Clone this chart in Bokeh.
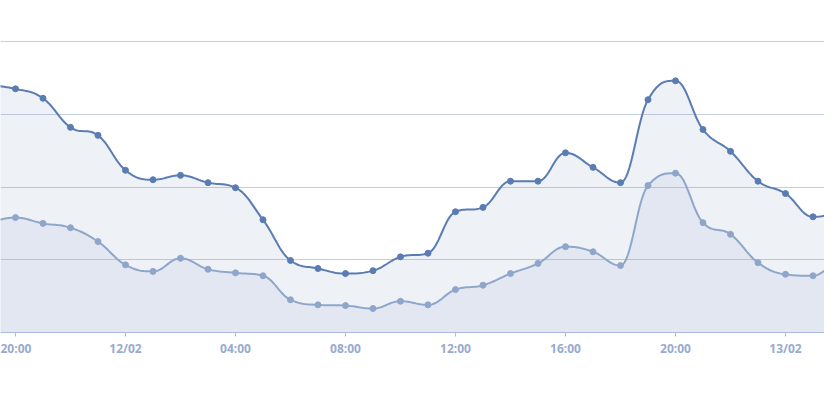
from bokeh.plotting import figure
from bokeh.models import FixedTicker, Range1d
from bokeh.embed import file_html
from bokeh.resources import INLINE
import numpy as np

# hour offsets relative to 11/02 20:00
hours = list(range(-1, 31))
upper = [340, 335, 322, 282, 271, 223, 210, 216, 206, 199, 155, 99, 88, 81, 85, 104,
         109, 166, 172, 208, 208, 247, 227, 206, 320, 346, 279, 249, 208, 191, 159, 165]
lower = [151, 158, 150, 144, 125, 93, 84, 102, 87, 82, 78, 45, 38, 37, 33, 43,
         38, 59, 65, 81, 95, 118, 111, 92, 202, 219, 151, 135, 96, 80, 78, 107]
tick_hours = [0, 4, 8, 12, 16, 20, 24, 28]
tick_labels = ["20:00", "12/02", "04:00", "08:00", "12:00", "16:00", "20:00", "13/02"]
grid_values = [0, 100, 200, 300, 400]

UPPER_C = "#5a7cb3"
LOWER_C = "#8fa6cb"


def spline(xs, ys, smoothing=1.5, n=16):
    xs = np.asarray(xs, float)
    ys = np.asarray(ys, float)
    m = len(xs)
    lc = [(xs[i], ys[i]) for i in range(m)]
    rc = [(xs[i], ys[i]) for i in range(m)]
    d = smoothing + 1
    for i in range(1, m - 1):
        x, y = xs[i], ys[i]
        lx = (smoothing * x + xs[i - 1]) / d
        ly = (smoothing * y + ys[i - 1]) / d
        rx = (smoothing * x + xs[i + 1]) / d
        ry = (smoothing * y + ys[i + 1]) / d
        corr = ((ry - ly) * (rx - x)) / (rx - lx) + y - ry
        ly += corr
        ry += corr
        if ly > ys[i - 1] and ly > y:
            ly = max(ys[i - 1], y)
            ry = 2 * y - ly
        elif ly < ys[i - 1] and ly < y:
            ly = min(ys[i - 1], y)
            ry = 2 * y - ly
        if ry > ys[i + 1] and ry > y:
            ry = max(ys[i + 1], y)
            ly = 2 * y - ry
        elif ry < ys[i + 1] and ry < y:
            ry = min(ys[i + 1], y)
            ly = 2 * y - ry
        lc[i] = (lx, ly)
        rc[i] = (rx, ry)
    outx, outy = [xs[0]], [ys[0]]
    t = np.linspace(0, 1, n + 1)[1:]
    for i in range(m - 1):
        p0 = np.array([xs[i], ys[i]])
        p1 = np.array(rc[i])
        p2 = np.array(lc[i + 1])
        p3 = np.array([xs[i + 1], ys[i + 1]])
        for tt in t:
            pt = ((1 - tt) ** 3) * p0 + 3 * ((1 - tt) ** 2) * tt * p1 + 3 * (1 - tt) * tt ** 2 * p2 + tt ** 3 * p3
            outx.append(pt[0])
            outy.append(pt[1])
    return np.array(outx), np.array(outy)


p = figure(width=824, height=384, output_backend="svg", toolbar_location=None,
           x_range=Range1d(-0.545, 29.418), y_range=Range1d(0, 456.4),
           min_border_left=0, min_border_right=0, min_border_top=0, min_border_bottom=52,
           outline_line_color=None, background_fill_color="white", border_fill_color="white")

ux, uy = spline(hours, upper)
lx, ly = spline(hours, lower)

p.varea(x=ux, y1=0, y2=uy, fill_color=UPPER_C, fill_alpha=0.1)
p.varea(x=lx, y1=0, y2=ly, fill_color=LOWER_C, fill_alpha=0.13)
p.line(ux, uy, line_color=UPPER_C, line_width=2)
p.line(lx, ly, line_color=LOWER_C, line_width=2)
p.scatter(hours, upper, size=6, color=UPPER_C)
p.scatter(hours, lower, size=6, color=LOWER_C)

p.yaxis.visible = False
p.ygrid.ticker = FixedTicker(ticks=grid_values)
p.ygrid.grid_line_color = "#c3cee1"
p.ygrid.grid_line_width = 1
p.xgrid.visible = False

xa = p.xaxis[0]
xa.ticker = FixedTicker(ticks=tick_hours)
xa.major_label_overrides = {h: l for h, l in zip(tick_hours, tick_labels)}
xa.axis_line_color = "#a9bcdb"
xa.major_tick_line_color = "#a9bcdb"
xa.major_tick_out = 4
xa.major_tick_in = 0
xa.minor_tick_line_color = None
xa.major_label_text_color = "#97abcf"
xa.major_label_text_font = "Open Sans"
xa.major_label_text_font_style = "bold"
xa.major_label_text_font_size = "12px"
xa.major_label_standoff = 3

open("out.html", "w").write(file_html(p, INLINE))
